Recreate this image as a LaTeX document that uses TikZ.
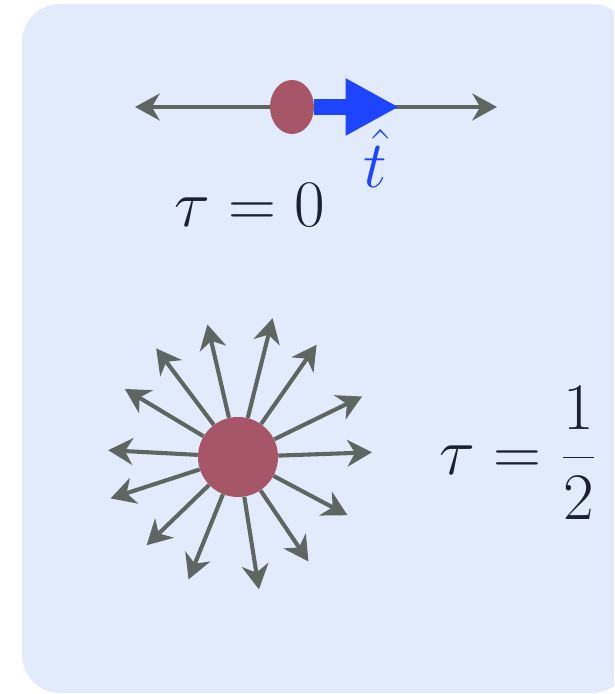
\documentclass[tikz,border=0pt]{standalone}
\usepackage{xcolor}
\usepackage{tikz}
\usetikzlibrary{arrows.meta,shapes.geometric}
\definecolor{PBack}{HTML}{E1EBFC}
\definecolor{PBall}{HTML}{A75668}
\definecolor{PGray}{HTML}{5E6661}
\definecolor{PBlue}{HTML}{1F44FF}
\definecolor{PInk}{HTML}{1B2131}

\begin{document}
\begin{tikzpicture}[
  x=0.025cm,y=0.025cm,
  ray/.style={-{Stealth[length=17.5pt,width=19pt,inset=5.5pt]},line width=2.9pt,color=PGray},
  tvec/.style={-{Triangle[length=38pt,width=38pt]},line width=10.7pt,color=PBlue},
  dot/.style={ellipse,fill=PBall,inner sep=0pt,minimum width=1.1cm,minimum height=1.35cm},
  ball/.style={circle,fill=PBall,inner sep=0pt,minimum size=2cm},
  lbl/.style={inner sep=0pt,text=PInk,font=\Huge,scale=1.9}
]
  \useasboundingbox (0,0) rectangle (614,694);
  \clip (0,0) rectangle (614,694);
  \fill[PBack,rounded corners=0.95cm] (22,1) rectangle (630,690);

  \coordinate (l0) at (135,587);
  \coordinate (r0) at (497,587);
  \coordinate (t0) at (399,587);
  \node[dot] (p0) at (292,587) {};
  \draw[ray] (p0) -- (l0);
  \draw[ray] (p0) -- (r0);
  \draw[tvec] (p0.east) -- (t0);
  \node[lbl,text=PBlue,anchor=base] (that) at (375,506) {$\hat t$};
  \node[lbl,anchor=base west] (tau0) at (174,467) {$\tau = 0$};

  \node[ball] (p1) at (238,237) {};
  \foreach \ang/\len in {2/134,26/138,55/137,76/143,103/136,127/136,149/132,
      177/130,198/134,224/127,248/132,279/134,304/126,332/124}
    \draw[ray] (p1.\ang) -- ([shift={(\ang:\len)}]p1.center);
  \node[lbl,anchor=west] (tau1) at (439,241) {$\tau = \displaystyle\frac{1}{2}$};
\end{tikzpicture}
\end{document}
